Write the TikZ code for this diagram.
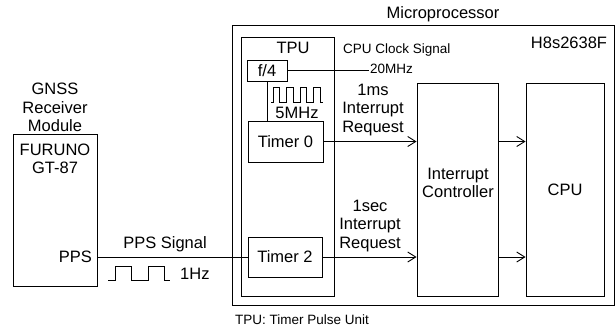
\documentclass[tikz,border=0pt]{standalone}
\usepackage{fontspec}
\setmainfont{Liberation Sans}
\usetikzlibrary{arrows.meta,calc,positioning}

\begin{document}
\begin{tikzpicture}[
  x=1pt,y=-1pt,
  font=\fontsize{16.5}{18.5}\selectfont,
  block/.style={draw,line width=0.9pt,inner sep=0pt},
  small/.style={font=\fontsize{13.5}{16}\selectfont},
  lbl/.style={align=center,inner sep=1pt},
  sig/.style={line width=0.8pt},
  arr/.style={-{Straight Barb[length=8pt,width=10pt,line width=0.9pt]},line width=0.9pt}
]
\useasboundingbox (0,0) rectangle (616,330);

% GNSS receiver module
\node[block,minimum width=84pt,minimum height=152pt] (gnss) at (55,210) {};
\node[lbl,anchor=south] (gnsslbl) at (55,133)
  {GNSS\\Receiver\\Module};
\node[lbl] (furuno) at (55,159) {FURUNO\\GT-87};
\node[lbl,anchor=east] (pps) at (93,257) {PPS};

% Microprocessor
\node[block,minimum width=382pt,minimum height=280pt] (mcu) at (423,165) {};
\node[lbl] (mculbl) at (443,14) {Microprocessor};
\node[lbl] (chip) at (569,43) {H8s2638F};

% Timer pulse unit
\node[block,minimum width=93pt,minimum height=259pt] (tpu) at (287.5,166.5) {};
\node[lbl] (tpulbl) at (293,48) {TPU};
\node[block,minimum width=40pt,minimum height=21pt] (f4) at (267,70.5) {f/4};
\node[block,minimum width=75pt,minimum height=41pt] (tmr0) at (285.5,141.5) {Timer 0};
\node[block,minimum width=74pt,minimum height=40pt] (tmr2) at (285,257) {Timer 2};

% Interrupt controller and CPU
\node[block,minimum width=81pt,minimum height=213pt] (ic) at (457.5,189.5) {};
\node[lbl] (iclbl) at (458,183) {Interrupt\\Controller};
\node[block,minimum width=78pt,minimum height=213pt] (cpu) at (565,189.5) {CPU};

% Clock signals
\node[lbl,small,anchor=west] (clklbl) at (342,50) {CPU Clock Signal};
\node[lbl,small,anchor=west] (mhz20) at (369,69) {20MHz};
\draw[sig] (f4.east) -- (f4.east -| mhz20.west);
\draw[sig] (f4.south) -- (f4.south |- tmr0.north);
\draw[sig] (271,102) \foreach \x in {273,286.5,300,313.5} {
  -- (\x,102) -- (\x,87) -- (\x+6.8,87) -- (\x+6.8,102)} -- (323,102);
\node[lbl] (mhz5) at (297,113) {5MHz};

% PPS signal
\draw[sig] (pps.east -| gnss.east) -- (tmr2.west);
\node[lbl] (ppslbl) at (165,244) {PPS Signal};
\draw[sig] (108,280) \foreach \x in {115,148} {
  -- (\x,280) -- (\x,266) -- (\x+16,266) -- (\x+16,280)} -- (170,280);
\node[lbl,anchor=west] (hz1) at (179,274) {1Hz};

% Interrupt requests
\draw[arr] (tmr0.east) -- (tmr0.east -| ic.west);
\draw[arr] (tmr2.east) -- (tmr2.east -| ic.west);
\draw[arr] (ic.east |- tmr0.east) -- (cpu.west |- tmr0.east);
\draw[arr] (ic.east |- tmr2.east) -- (cpu.west |- tmr2.east);
\node[lbl] (req0) at (373,110) {1ms\\Interrupt\\Request};
\node[lbl] (req2) at (370,226) {1sec\\Interrupt\\Request};

\node[lbl,small,anchor=west] (note) at (234,320) {TPU: Timer Pulse Unit};
\end{tikzpicture}
\end{document}
